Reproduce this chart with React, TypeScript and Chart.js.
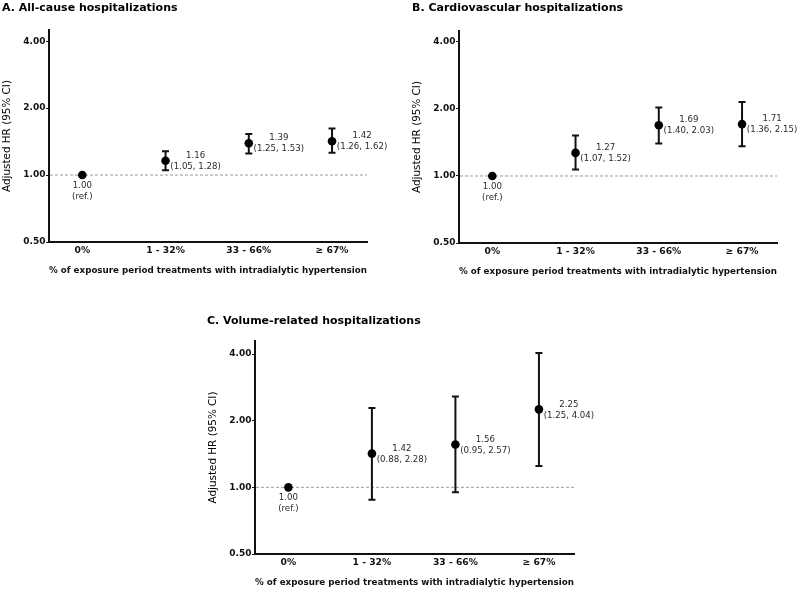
import React, { useEffect, useRef } from 'react';
import { Chart, registerables } from 'chart.js';
Chart.register(...registerables);

const FONT = "'DejaVu Sans', 'Liberation Sans', Arial, sans-serif";
Chart.defaults.font.family = FONT;

const categories = ['0%', '1 - 32%', '33 - 66%', '\u2265 67%'];
const yTickValues = [0.5, 1, 2, 4];

const hrA = [1.0, 1.16, 1.39, 1.42];
const loA = [1.0, 1.05, 1.25, 1.26];
const hiA = [1.0, 1.28, 1.53, 1.62];

const hrB = [1.0, 1.27, 1.69, 1.71];
const loB = [1.0, 1.07, 1.4, 1.36];
const hiB = [1.0, 1.52, 2.03, 2.15];

const hrC = [1.0, 1.42, 1.56, 2.25];
const loC = [1.0, 0.88, 0.95, 1.25];
const hiC = [1.0, 2.28, 2.57, 4.04];

const titleA = 'A. All-cause hospitalizations';
const titleB = 'B. Cardiovascular hospitalizations';
const titleC = 'C. Volume-related hospitalizations';
const xTitle = '% of exposure period treatments with intradialytic hypertension';
const yTitle = 'Adjusted HR (95% CI)';

type PanelProps = {
  title: string;
  hr: number[];
  lo: number[];
  hi: number[];
  left: number;
  top: number;
  width: number;
  height: number;
  pad: { left: number; top: number; right: number; bottom: number };
  yMax: number;
  titleX: number;
  titleY: number;
};

function makeOverlay(p: PanelProps) {
  return {
    id: 'overlay',
    beforeDatasetsDraw(chart: any) {
      const { ctx, chartArea } = chart;
      const x = chart.scales.x;
      const y = chart.scales.y;
      ctx.save();
      const y1 = y.getPixelForValue(1);
      ctx.strokeStyle = '#9a9a9a';
      ctx.lineWidth = 1;
      ctx.setLineDash([3, 2]);
      ctx.beginPath();
      ctx.moveTo(chartArea.left + 1, y1);
      ctx.lineTo(chartArea.right, y1);
      ctx.stroke();
      ctx.setLineDash([]);
      ctx.strokeStyle = '#111';
      ctx.lineWidth = 2;
      p.lo.forEach((lo, i) => {
        const hi = p.hi[i];
        if (lo === hi) return;
        const px = x.getPixelForValue(i);
        const pl = y.getPixelForValue(lo);
        const ph = y.getPixelForValue(hi);
        ctx.beginPath();
        ctx.moveTo(px, pl);
        ctx.lineTo(px, ph);
        ctx.moveTo(px - 3.5, pl);
        ctx.lineTo(px + 3.5, pl);
        ctx.moveTo(px - 3.5, ph);
        ctx.lineTo(px + 3.5, ph);
        ctx.stroke();
      });
      ctx.restore();
    },
    afterDatasetsDraw(chart: any) {
      const { ctx } = chart;
      const x = chart.scales.x;
      const y = chart.scales.y;
      ctx.save();
      ctx.fillStyle = '#2a2a2a';
      ctx.font = `8.6px ${FONT}`;
      ctx.textAlign = 'center';
      ctx.textBaseline = 'middle';
      p.hr.forEach((v, i) => {
        const px = x.getPixelForValue(i);
        const py = y.getPixelForValue(v);
        const l1 = v.toFixed(2);
        const l2 = i === 0 ? '(ref.)' : `(${p.lo[i].toFixed(2)}, ${p.hi[i].toFixed(2)})`;
        if (i === 0) {
          ctx.fillText(l1, px, py + 10.5);
          ctx.fillText(l2, px, py + 21.5);
        } else {
          ctx.fillText(l1, px + 30, py - 5);
          ctx.fillText(l2, px + 30, py + 6);
        }
      });
      ctx.restore();
    },
    afterDraw(chart: any) {
      const { ctx } = chart;
      ctx.save();
      ctx.fillStyle = '#000';
      ctx.font = `bold 11px ${FONT}`;
      ctx.textAlign = 'left';
      ctx.textBaseline = 'alphabetic';
      ctx.fillText(p.title, p.titleX, p.titleY);
      ctx.restore();
    },
  };
}

function Panel(p: PanelProps) {
  const ref = useRef<HTMLCanvasElement | null>(null);
  useEffect(() => {
    if (!ref.current) return;
    const chart = new Chart(ref.current, {
      type: 'scatter',
      data: {
        datasets: [
          {
            data: p.hr.map((v, i) => ({ x: i, y: v })),
            pointRadius: 4.3,
            pointHoverRadius: 4.3,
            backgroundColor: '#000',
            borderColor: '#000',
            borderWidth: 0,
          },
        ],
      },
      options: {
        animation: false,
        responsive: false,
        maintainAspectRatio: false,
        events: [],
        layout: { padding: p.pad },
        plugins: { legend: { display: false }, tooltip: { enabled: false }, title: { display: false } },
        scales: {
          x: {
            type: 'linear',
            min: -0.4,
            max: 3.42,
            afterBuildTicks: (s: any) => {
              s.ticks = categories.map((_, i) => ({ value: i }));
            },
            afterFit: (s: any) => {
              s.height = 35;
            },
            ticks: {
              autoSkip: false,
              maxRotation: 0,
              padding: 3.5,
              color: '#111',
              font: { size: 9.2, weight: 'bold' },
              callback: (v: any) => categories[Number(v)] ?? '',
            },
            grid: { display: false, drawTicks: false },
            border: { display: true, color: '#111', width: 2 },
            title: {
              display: true,
              text: xTitle,
              color: '#111',
              font: { size: 9, weight: 'bold' },
              padding: { top: 0, bottom: 1.2 },
            },
          },
          y: {
            type: 'logarithmic',
            min: 0.5,
            max: p.yMax,
            afterBuildTicks: (s: any) => {
              s.ticks = yTickValues.map((v) => ({ value: v }));
            },
            afterFit: (s: any) => {
              s.width = 49;
            },
            ticks: {
              autoSkip: false,
              padding: 0.5,
              color: '#111',
              font: { size: 9, weight: 'bold' },
              callback: (v: any) => Number(v).toFixed(2),
            },
            grid: { drawOnChartArea: false, drawTicks: true, tickLength: 3, color: '#111', lineWidth: 1 },
            border: { display: true, color: '#111', width: 2 },
            title: {
              display: true,
              text: yTitle,
              color: '#000',
              font: { size: 10.4 },
              padding: { top: 1.5, bottom: 0 },
            },
          },
        },
      } as any,
      plugins: [makeOverlay(p) as any],
    });
    return () => chart.destroy();
  }, []);
  return (
    <canvas
      ref={ref}
      width={p.width}
      height={p.height}
      style={{ position: 'absolute', left: p.left, top: p.top, width: p.width, height: p.height }}
    />
  );
}

export default function App() {
  return (
    <div style={{ position: 'absolute', left: 0, top: 0, width: 800, height: 589, background: '#fff', overflow: 'hidden' }}>
      <Panel
        title={titleA}
        hr={hrA}
        lo={loA}
        hi={hiA}
        left={0}
        top={0}
        width={400}
        height={290}
        pad={{ left: 0, top: 30, right: 33, bottom: 13 }}
        yMax={4.49}
        titleX={2}
        titleY={10.5}
      />
      <Panel
        title={titleB}
        hr={hrB}
        lo={loB}
        hi={hiB}
        left={400}
        top={0}
        width={400}
        height={290}
        pad={{ left: 10, top: 31, right: 23, bottom: 12 }}
        yMax={4.48}
        titleX={12}
        titleY={10.5}
      />
      <Panel
        title={titleC}
        hr={hrC}
        lo={loC}
        hi={hiC}
        left={200}
        top={290}
        width={400}
        height={299}
        pad={{ left: 6, top: 51, right: 26, bottom: 0 }}
        yMax={4.58}
        titleX={7}
        titleY={33.5}
      />
    </div>
  );
}
